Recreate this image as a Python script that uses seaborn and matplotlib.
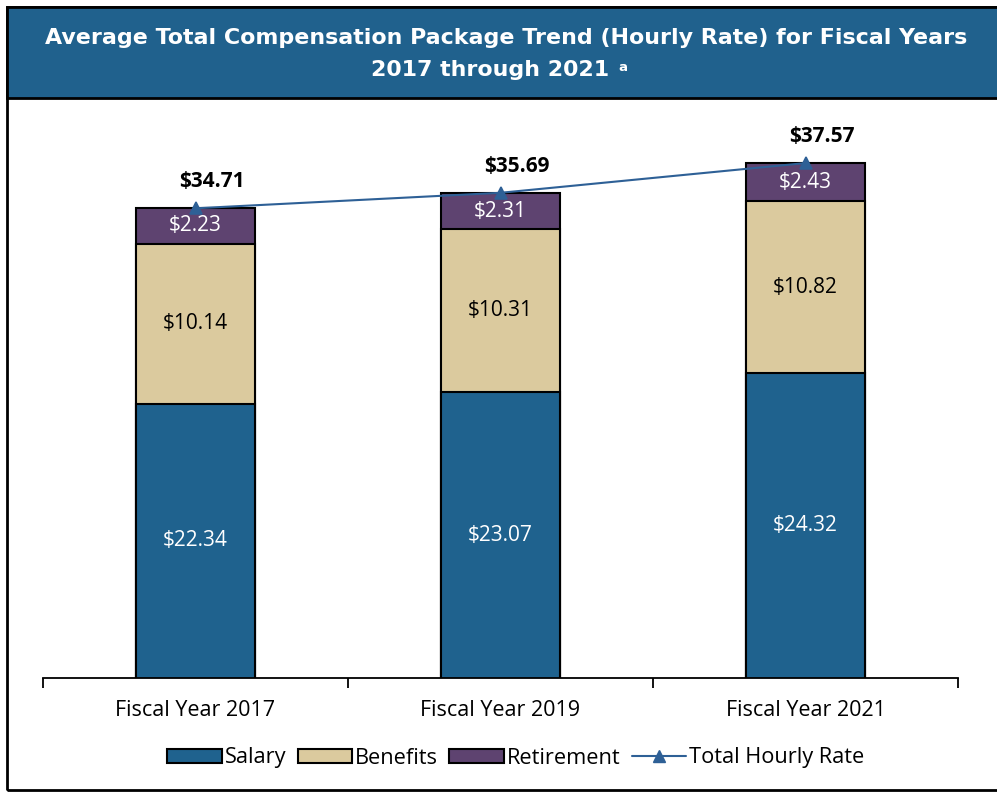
import matplotlib
matplotlib.use("Agg")
import matplotlib.pyplot as plt
from matplotlib.patches import Rectangle, Patch
from matplotlib.lines import Line2D
import seaborn as sns
import numpy as np

years = ["Fiscal Year 2017", "Fiscal Year 2019", "Fiscal Year 2021"]
salary = [22.34, 23.07, 24.32]
benefits = [10.14, 10.31, 10.82]
retirement = [2.23, 2.31, 2.43]
total = [34.71, 35.69, 37.57]

salary_color = "#1F628E"
benefits_color = "#DBCA9E"
retire_color = "#5E4370"
line_color = "#2E6096"
band_color = "#20618D"

sns.set_style("white")
plt.rcParams["font.family"] = ["Open Sans", "DejaVu Sans"]
plt.rcParams["text.color"] = "black"

W, H = 997, 792
fig = plt.figure(figsize=(W / 100, H / 100), dpi=100)

# outer frame and title band
fig.patches.append(Rectangle((7 / W, 2 / H), 1.2, (H - 9) / H, transform=fig.transFigure,
                             facecolor="none", edgecolor="black", linewidth=2, zorder=0))
fig.patches.append(Rectangle((7 / W, 1 - 98 / H), 1.2, 91 / H, transform=fig.transFigure,
                             facecolor=band_color, edgecolor="black", linewidth=2, zorder=0))

fig.text(0.508, 1 - 38 / H, "Average Total Compensation Package Trend (Hourly Rate) for Fiscal Years",
         ha="center", va="center", color="white", fontsize=15.9, fontweight="bold",
         family="DejaVu Sans")
t2 = fig.text(0.492, 1 - 70 / H, "2017 through 2021", ha="center", va="center",
              color="white", fontsize=15.9, fontweight="bold", family="DejaVu Sans")

ax = fig.add_axes([43 / W, (H - 678) / H, (958 - 43) / W, (678 - 100) / H])
ax.set_zorder(2)
ax.annotate("a", xy=(1, 1), xycoords=t2, xytext=(6, -1), textcoords="offset points",
            ha="left", va="top", color="white", fontsize=9.5, fontweight="bold",
            family="DejaVu Sans", annotation_clip=False)

cum2 = np.add(salary, benefits)
cum3 = cum2 + np.array(retirement)
for vals, col in [(cum3, retire_color), (cum2, benefits_color), (salary, salary_color)]:
    sns.barplot(x=years, y=vals, color=col, saturation=1, width=0.393,
                edgecolor="black", linewidth=1.5, ax=ax, zorder=2)

sns.pointplot(x=years, y=total, color=line_color, marker="^", markersize=8.5,
              linewidth=1.5, errorbar=None, ax=ax)
for coll in ax.collections + ax.lines:
    coll.set_zorder(5)

ymin = 5
ax.set_ylim(ymin, 41.56)
ax.set_xlim(-0.5, 2.5)

# segment labels
for i in range(3):
    ax.text(i, (ymin + salary[i]) / 2, f"${salary[i]:.2f}", ha="center", va="center",
            color="white", fontsize=15)
    ax.text(i, salary[i] + benefits[i] / 2, f"${benefits[i]:.2f}", ha="center", va="center",
            color="black", fontsize=15)
    ax.text(i, cum2[i] + retirement[i] / 2, f"${retirement[i]:.2f}", ha="center", va="center",
            color="white", fontsize=15)
    ax.annotate(f"${total[i]:.2f}", xy=(i, total[i]), xytext=(12, 19), textcoords="offset points",
                ha="center", va="center", fontsize=15, fontweight="bold", color="black")

for s in ["left", "right", "top"]:
    ax.spines[s].set_visible(False)
ax.spines["bottom"].set_color("black")
ax.spines["bottom"].set_linewidth(1.3)
ax.set_yticks([])
ax.set_ylabel("")
ax.set_xlabel("")
ax.set_xticks([0, 1, 2])
ax.set_xticklabels(years)
ax.set_xticks([-0.5, 0.5, 1.5, 2.5], minor=True)
ax.tick_params(axis="x", which="major", bottom=True, length=0, pad=16, labelsize=15.5,
               labelcolor="black")
ax.tick_params(axis="x", which="minor", bottom=True, length=7, width=1.3, color="black",
               direction="out")
ax.patch.set_alpha(0)

handles = [
    Patch(facecolor=salary_color, edgecolor="black", linewidth=1.5, label="Salary"),
    Patch(facecolor=benefits_color, edgecolor="black", linewidth=1.5, label="Benefits"),
    Patch(facecolor=retire_color, edgecolor="black", linewidth=1.5, label="Retirement"),
    Line2D([0], [0], color=line_color, marker="^", markersize=8.5, linewidth=1.5,
           label="Total Hourly Rate"),
]
fig.legend(handles=handles, loc="center", bbox_to_anchor=(516 / W, 1 - 758 / H), ncol=4,
           frameon=False, fontsize=15.7, handlelength=2.5, handleheight=0.65,
           handletextpad=0.15, columnspacing=0.5, labelcolor="black")

fig.savefig("out.png", dpi=100)
